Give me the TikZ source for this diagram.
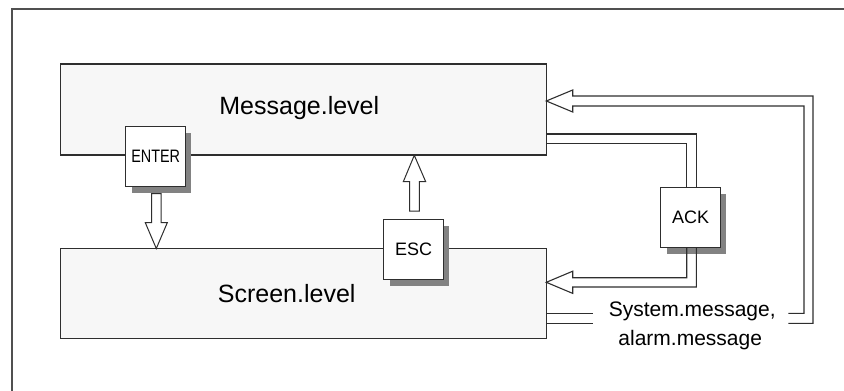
\documentclass[tikz,border=0pt]{standalone}
\usepackage{fontspec}
\setmainfont{Liberation Sans}
\usetikzlibrary{shadows}
\definecolor{boxfill}{HTML}{F7F7F7}
\definecolor{linec}{HTML}{2E2E2E}
\definecolor{framec}{HTML}{505050}
\definecolor{shadowc}{HTML}{828282}
\tikzset{
  lvl/.style={draw=linec, fill=boxfill, line width=1.2pt, inner sep=0pt,
    minimum width=485.6pt, minimum height=91pt},
  keybox/.style={draw=linec, fill=white, line width=1pt, inner sep=0pt,
    minimum width=59.5pt, minimum height=60pt,
    font=\fontsize{18}{20}\selectfont,
    drop shadow={shadow xshift=6pt, shadow yshift=-6.5pt, fill=shadowc, opacity=1}},
  conn/.style={draw=linec, line width=1.1pt, line join=miter},
  blockarrow/.style={draw=linec, fill=white, line width=1pt, line join=miter},
  biglabel/.style={font=\fontsize{25}{30}\selectfont, inner sep=0pt, anchor=base},
  smalllabel/.style={font=\fontsize{21}{25}\selectfont, inner sep=0pt, anchor=base}
}
\begin{document}
\begin{tikzpicture}[x=1pt, y=-1pt]
  \useasboundingbox (0,0) rectangle (844,391);
  % outer frame
  \draw[framec, line width=1.4pt] (12,391) -- (12,9) -- (844,9);

  % level boxes
  \node[lvl] (msg) at (303.5,109.4) {};
  \node[lvl, minimum height=90pt] (scr) at (303.5,293.5) {};
  \node[biglabel] (msglbl) at (299.3,114.3) {Message.level};
  \node[biglabel] (scrlbl) at (286.7,302.7) {Screen.level};

  % key boxes
  \node[keybox] (enter) at (155.7,156) {\scalebox{0.8}[1]{ENTER}};
  \node[keybox] (esc) at (413.7,249) {ESC};
  \node[keybox] (ack) at (690.7,217.5) {ACK};

  % ENTER block arrow (down)
  \coordinate (entertip) at (156.3,248.5);
  \draw[blockarrow] (151.7,193.5) -- (161,193.5) -- (161,222.7) -- (167.3,222.7)
     -- (entertip) -- (145.3,222.7) -- (151.7,222.7) -- cycle;

  % ESC block arrow (up)
  \coordinate (esctip) at (414.3,155.3);
  \draw[blockarrow] (409.7,211) -- (419.3,211) -- (419.3,181.7) -- (425.7,181.7)
     -- (esctip) -- (403.3,181.7) -- (409.7,181.7) -- cycle;

  % ACK loop: Message.level -> ACK -> Screen.level
  \coordinate (ao) at (696.3,134);
  \coordinate (ai) at (686.7,143.3);
  \draw[conn] (msg.east |- ao) -- (ao) -- (ao |- ack.north);
  \draw[conn] (msg.east |- ai) -- (ai) -- (ai |- ack.north);
  \coordinate (bi) at (686.7,277.7);
  \coordinate (bo) at (696.3,287);
  \coordinate (acktip) at (546.3,282.3);
  \draw[conn] (bi |- ack.south) -- (bi) -- (572.7,277.7) -- (572.7,271.2)
     -- (acktip) -- (572.7,293.4) -- (572.7,287) -- (bo) -- (bo |- ack.south);

  % System / alarm message loop: Screen.level -> Message.level
  \node[smalllabel] (sys1) at (692.2,316.7) {System.message,};
  \node[smalllabel] (sys2) at (690.2,345) {alarm.message};
  \coordinate (ci) at (593.3,313.3);
  \coordinate (co) at (593.3,323.3);
  \draw[conn] (scr.east |- ci) -- (ci);
  \draw[conn] (scr.east |- co) -- (co);
  \coordinate (di) at (804,313.3);
  \coordinate (do) at (813,323.3);
  \coordinate (ei) at (804,106);
  \coordinate (eo) at (813,96);
  \coordinate (msgtip) at (546.3,101);
  \draw[conn] (788.3,313.3) -- (di) -- (ei) -- (572.7,106) -- (572.7,112)
     -- (msgtip) -- (572.7,90) -- (572.7,96) -- (eo) -- (do) -- (788.3,323.3);
\end{tikzpicture}
\end{document}
